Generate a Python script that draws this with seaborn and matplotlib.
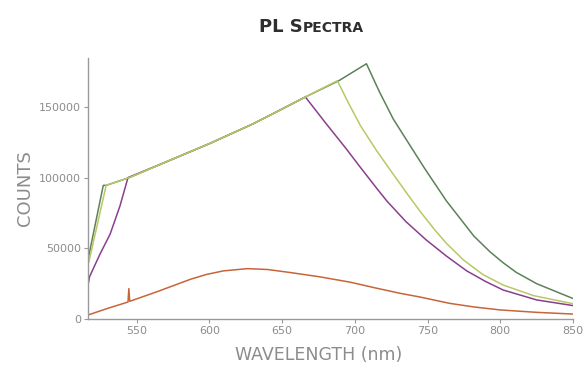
import matplotlib
matplotlib.use("Agg")
import matplotlib.pyplot as plt
import seaborn as sns
import pandas as pd

# ---- data ----
green_wl = [516.5, 527, 529, 545, 570, 600, 630, 650, 666, 689, 708, 717, 726.4, 737.8, 748, 763, 782, 793, 802, 811, 825, 850]
green_ct = [42000, 94500, 94500, 100000, 111000, 124000, 138000, 148500, 157000, 168500, 180500, 160500, 141500, 123000, 106500, 83500, 58500, 47500, 39800, 33000, 25000, 14500]

yellow_wl = [517, 529, 545, 570, 600, 630, 650, 666, 688, 696, 704, 715, 726, 735, 745, 755, 763, 775, 788, 802, 823, 850]
yellow_ct = [40000, 94500, 100000, 111000, 124000, 138000, 148500, 157000, 168500, 152000, 136500, 119000, 103000, 90000, 76000, 63000, 53500, 41500, 31500, 24000, 16500, 10800]

purple_wl = [516.5, 517.6, 524.8, 531.7, 538.5, 544, 570, 600, 630, 650, 666, 680, 694, 704, 715, 722, 735, 749, 763, 777, 790, 802, 825, 850]
purple_ct = [24000, 30000, 46000, 60000, 80000, 100000, 111000, 124000, 138000, 148500, 157000, 138500, 120500, 107000, 92500, 83500, 69000, 56000, 44500, 34000, 26500, 20500, 13500, 9500]

orange_wl = [517, 530, 544, 544.6, 545.2, 564, 587, 598, 609.5, 626, 640, 656, 676, 697, 714, 731, 745, 765, 782, 800, 825, 850]
orange_ct = [3000, 7500, 12000, 21500, 12500, 19300, 28100, 31500, 34000, 35600, 35000, 32800, 29800, 26000, 22000, 18200, 15500, 11100, 8500, 6400, 4700, 3500]

x_ticks = [550, 600, 650, 700, 750, 800, 850]
y_ticks = [0, 50000, 100000, 150000]

series = [
    ("purple", purple_wl, purple_ct, "#8a3f8e"),
    ("green", green_wl, green_ct, "#5c8257"),
    ("yellow", yellow_wl, yellow_ct, "#b9c865"),
    ("orange", orange_wl, orange_ct, "#c8643a"),
]

sns.set_style("ticks")
plt.rcParams["font.family"] = ["DejaVu Sans"]

fig = plt.figure(figsize=(5.84, 3.73), dpi=100)
ax = fig.add_axes([0.1507, 0.1448, 0.8303, 0.7002])

for name, wl, ct, col in series:
    df = pd.DataFrame({"wl": wl, "ct": ct})
    sns.lineplot(data=df, x="wl", y="ct", sort=False, color=col, lw=1.1, ax=ax, estimator=None)

ax.set_xlim(516.5, 850)
ax.set_ylim(0, 184700)
ax.set_xticks(x_ticks)
ax.set_yticks(y_ticks)
ax.set_xticklabels([str(t) for t in x_ticks])
ax.set_yticklabels([str(t) for t in y_ticks])
ax.set_xlabel("")
ax.set_ylabel("")

gray = "#8c8c8c"
for s in ["top", "right"]:
    ax.spines[s].set_visible(False)
for s in ["left", "bottom"]:
    ax.spines[s].set_color("#9a9a9a")
    ax.spines[s].set_linewidth(1.0)
ax.tick_params(axis="both", colors="#9a9a9a", labelcolor=gray, labelsize=8, length=3, width=0.8, pad=2)

fig.text(0.043, 0.495, "COUNTS", rotation=90, ha="center", va="center", fontsize=13, color=gray)
fig.text(0.545, 0.048, "WAVELENGTH (nm)", ha="center", va="center", fontsize=12.5, color=gray)

# small-caps title built from pieces
renderer = fig.canvas.get_renderer()
pieces = [("PL S", 13), ("PECTRA", 10)]
title_col = "#2e2e2e"
texts = []
for txt, fs in pieces:
    t = fig.text(0, 0.915, txt, fontsize=fs, fontweight="bold", color=title_col, ha="left", va="baseline")
    texts.append(t)
widths = [t.get_window_extent(renderer=renderer).width for t in texts]
total = sum(widths)
cur = 311 - total / 2
for t, w in zip(texts, widths):
    t.set_x(cur / fig.bbox.width)
    cur += w

fig.savefig("out.png", dpi=100, facecolor="white")
